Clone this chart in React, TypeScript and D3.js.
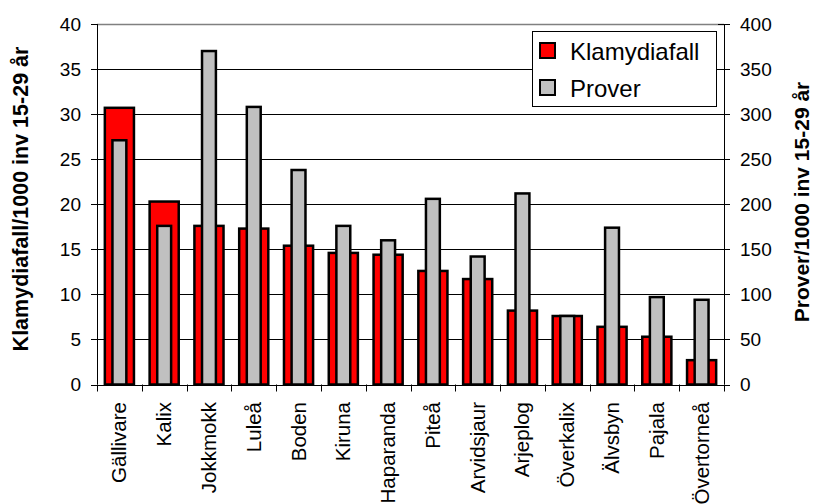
import React from 'react';
import * as d3 from 'd3';

// Klamydiafall och prover per 1000 invånare 15-29 år, per kommun
const kommuner = ['Gällivare', 'Kalix', 'Jokkmokk', 'Luleå', 'Boden', 'Kiruna', 'Haparanda', 'Piteå', 'Arvidsjaur', 'Arjeplog', 'Överkalix', 'Älvsbyn', 'Pajala', 'Övertorneå'];
const klamydiafall = [30.7, 20.3, 17.6, 17.3, 15.4, 14.6, 14.4, 12.6, 11.7, 8.2, 7.6, 6.4, 5.3, 2.7];
const prover = [271, 176, 370, 308, 238, 176, 160, 206, 142, 212, 76, 174, 97, 94];
const leftTicks = [0, 5, 10, 15, 20, 25, 30, 35, 40];
const rightTicks = [0, 50, 100, 150, 200, 250, 300, 350, 400];

const font = '"Liberation Sans", Arial, sans-serif';

export default function App() {
    const width = 815;
    const height = 504;
    const plot = { left: 97, right: 724, top: 24, bottom: 384.5 };

    const x = d3.scaleBand<string>().domain(kommuner).range([plot.left, plot.right]);
    const yL = d3.scaleLinear().domain([0, 40]).range([plot.bottom, plot.top]);
    const yR = d3.scaleLinear().domain([0, 400]).range([plot.bottom, plot.top]);

    const redW = x.bandwidth() * 0.65;
    const grayW = x.bandwidth() * 0.31;
    const bandEdges = kommuner.map(k => x(k)!).concat([plot.right]);

    return (
        <svg width={width} height={height} viewBox={`0 0 ${width} ${height}`}
            style={{ position: 'absolute', left: 0, top: 0, background: '#fff' }}
            fontFamily={font}>
            {/* gridlines */}
            {leftTicks.filter(t => t > 0 && t < 40).map(t => (
                <line key={t} x1={plot.left} x2={plot.right} y1={Math.round(yL(t)) + 0.5} y2={Math.round(yL(t)) + 0.5}
                    stroke="#000" strokeWidth={1} />
            ))}
            <line x1={plot.left} x2={plot.right} y1={plot.top + 0.5} y2={plot.top + 0.5} stroke="#808080" strokeWidth={1.5} />

            {/* bars: red behind, gray in front */}
            {kommuner.map((k, i) => {
                const cx = x(k)! + x.bandwidth() / 2;
                return (
                    <g key={k}>
                        <rect x={cx - redW / 2} y={yL(klamydiafall[i])} width={redW}
                            height={plot.bottom - yL(klamydiafall[i])}
                            fill="#ff0000" stroke="#000" strokeWidth={2.5} />
                        <rect x={cx - grayW / 2} y={yR(prover[i])} width={grayW}
                            height={plot.bottom - yR(prover[i])}
                            fill="#c0c0c0" stroke="#000" strokeWidth={2.5} />
                    </g>
                );
            })}

            {/* axes */}
            <line x1={plot.left + 0.5} x2={plot.left + 0.5} y1={plot.top} y2={plot.bottom} stroke="#000" />
            <line x1={plot.right + 0.5} x2={plot.right + 0.5} y1={plot.top} y2={plot.bottom} stroke="#000" />
            <line x1={plot.left} x2={plot.right} y1={Math.round(plot.bottom) + 0.5} y2={Math.round(plot.bottom) + 0.5} stroke="#000" />

            {leftTicks.map(t => (
                <g key={t}>
                    <line x1={plot.left - 6} x2={plot.left} y1={Math.round(yL(t)) + 0.5} y2={Math.round(yL(t)) + 0.5} stroke="#000" />
                    <text x={81} y={yL(t)} dy="0.35em" textAnchor="end" fontSize={19}>{t}</text>
                </g>
            ))}
            {rightTicks.map(t => (
                <g key={t}>
                    <line x1={plot.right - 6} x2={plot.right + 6} y1={Math.round(yR(t)) + 0.5} y2={Math.round(yR(t)) + 0.5} stroke="#000" />
                    <text x={740} y={yR(t)} dy="0.35em" textAnchor="start" fontSize={19}>{t}</text>
                </g>
            ))}
            {bandEdges.map((e, i) => (
                <line key={i} x1={Math.round(e) + 0.5} x2={Math.round(e) + 0.5} y1={plot.bottom} y2={plot.bottom + 7} stroke="#000" />
            ))}
            {kommuner.map(k => {
                const cx = x(k)! + x.bandwidth() / 2;
                return (
                    <text key={k} transform={`translate(${cx + 7},402) rotate(-90)`} textAnchor="end" fontSize={20.5}>{k}</text>
                );
            })}

            {/* axis titles */}
            <text transform="translate(28,199) rotate(-90)" textAnchor="middle" fontSize={21.5} fontWeight="bold">
                Klamydiafall/1000 inv 15-29 år
            </text>
            <text transform="translate(809,202) rotate(-90)" textAnchor="middle" fontSize={21} fontWeight="bold">
                Prover/1000 inv 15-29 år
            </text>

            {/* legend */}
            <g>
                <rect x={532.5} y={31.5} width={184} height={75} fill="#fff" stroke="#000" strokeWidth={1} />
                <rect x={540} y={43} width={15} height={15} fill="#ff0000" stroke="#000" strokeWidth={2} />
                <text x={570} y={60} fontSize={24}>Klamydiafall</text>
                <rect x={540} y={80} width={15} height={15} fill="#c0c0c0" stroke="#000" strokeWidth={2} />
                <text x={570} y={97} fontSize={24}>Prover</text>
            </g>
        </svg>
    );
}
